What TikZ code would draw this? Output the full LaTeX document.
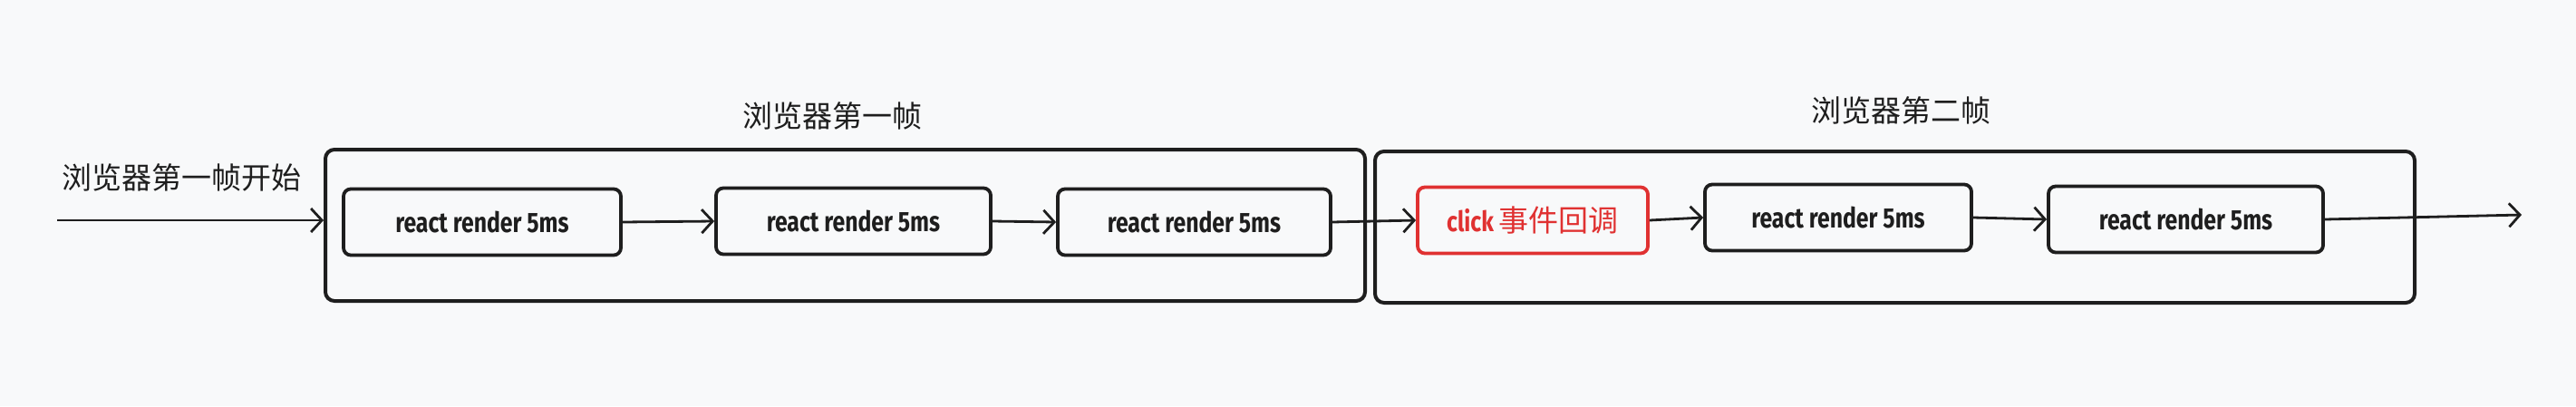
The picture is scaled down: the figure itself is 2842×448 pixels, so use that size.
\documentclass[tikz,border=0pt]{standalone}
\usepackage{fontspec}
\usepackage{xcolor}
\usepackage{tikz}
\usetikzlibrary{arrows.meta}
\newfontfamily\cjk{Noto Sans CJK SC}
\newfontfamily\hand{Fira Sans}[FakeStretch=0.8]
\definecolor{ink}{HTML}{1E1E1E}
\definecolor{alert}{HTML}{E03131}
\definecolor{paper}{HTML}{F8F9FA}
\tikzset{
  frame/.style={rectangle, draw=ink, line width=4pt, rounded corners=10pt, minimum width=1147pt, minimum height=167pt},
  task/.style={rectangle, draw=ink, line width=3.8pt, rounded corners=8pt, minimum height=73pt, inner sep=0pt,
               font=\hand\bfseries\fontsize{31}{36}\selectfont, text=ink},
  hot/.style={task, draw=alert, text=alert},
  ttl/.style={font=\cjk\fontsize{33}{38}\selectfont, text=ink},
  arr/.style={-{Straight Barb[length=12pt, width=26pt]}, line width=2.8pt, draw=ink},
}

\begin{document}
\begin{tikzpicture}[x=1pt, y=-1pt]
  \fill[paper] (0,0) rectangle (2842,448);
  \useasboundingbox (0,0) rectangle (2842,448);
  % the two frames
  \node[frame] (f1) at (932.5,248.5) {};
  \node[frame] (f2) at (2090.5,250.5) {};
  \node[ttl] (t1) at (918,128) {浏览器第一帧};
  \node[ttl] (t2) at (2097,122) {浏览器第二帧};
  \node[ttl] (start) at (200,196) {浏览器第一帧开始};
  % tasks
  \node[task, minimum width=306pt] (b1) at (532,245) {react render 5ms};
  \node[task, minimum width=303pt] (b2) at (941.5,244) {react render 5ms};
  \node[task, minimum width=301pt] (b3) at (1317.5,245) {react render 5ms};
  \node[hot, minimum width=254pt] (clk) at (1691,243) {click {\cjk\mdseries\fontsize{33}{38}\selectfont 事件回调}};
  \node[task, minimum width=294pt] (b4) at (2028,240) {react render 5ms};
  \node[task, minimum width=303pt] (b5) at (2411.5,242) {react render 5ms};
  \coordinate (in) at (63,243);
  \coordinate (out) at (2782,237);
  \draw[arr] (in) -- (in -| f1.west);
  \draw[arr] (b1.east) -- (b2.west); \draw[arr] (b2.east) -- (b3.west);
  \draw[arr] (b3.east) -- (clk.west); \draw[arr] (clk.east) -- (b4.west);
  \draw[arr] (b4.east) -- (b5.west); \draw[arr] (b5.east) -- (out);
\end{tikzpicture}
\end{document}
